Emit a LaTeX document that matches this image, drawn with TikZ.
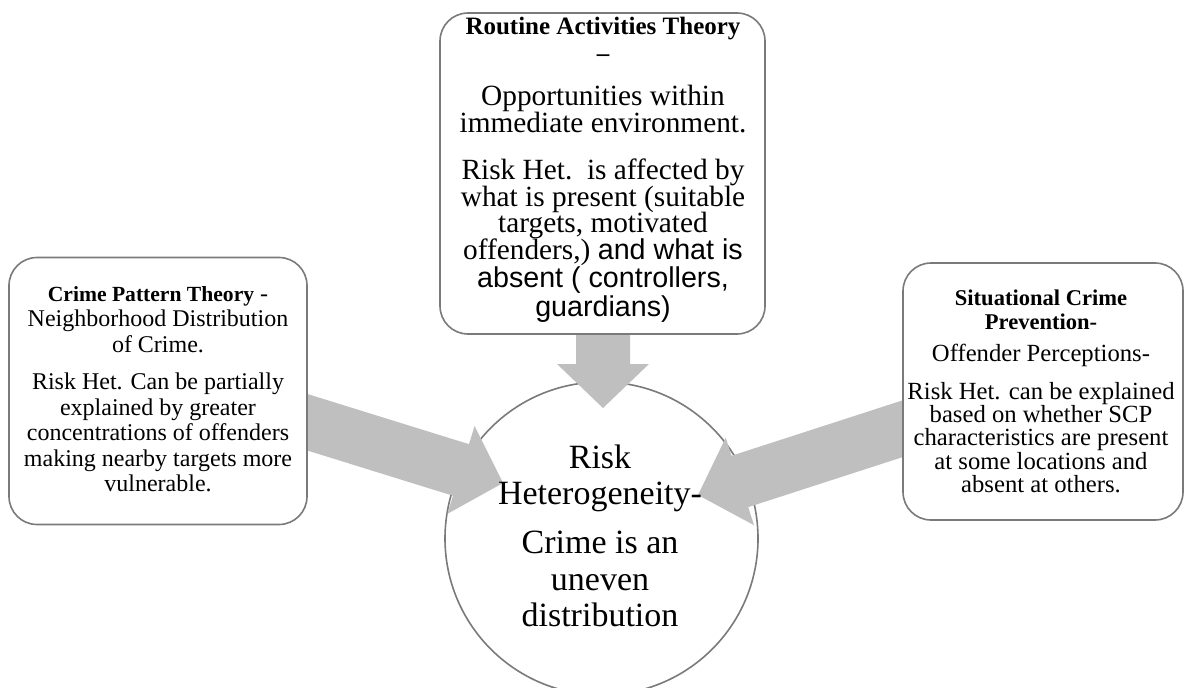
\documentclass[tikz,border=0pt]{standalone}
\usepackage{fontspec}
\setmainfont{Liberation Serif}
\newfontfamily\arialf{Liberation Sans}
\usetikzlibrary{calc}
\definecolor{boxline}{HTML}{7A7A7A}
\definecolor{arrowgray}{HTML}{BFBFBF}
\newcommand\txtblock[1]{\vtop{\hsize=300pt\lineskiplimit=-100pt\lineskip=0pt\parskip=0pt\parindent=0pt\centering #1\par}}
\newcommand\fatarrow[3]{%
  \path ($(#2)!33pt!(#1)$) coordinate (#3);
  \fill[arrowgray] ($(#1)!20.25pt!90:(#2)$) -- ($(#3)!20.25pt!90:(#2)$) -- ($(#3)!34.5pt!90:(#2)$) -- (#2)
    -- ($(#3)!34.5pt!-90:(#2)$) -- ($(#3)!20.25pt!-90:(#2)$) -- ($(#1)!20.25pt!-90:(#2)$) -- cycle;}
\tikzset{
  rbox/.style={draw=boxline, line width=1.2pt, fill=white, rounded corners=21pt, inner sep=0pt},
  cbox/.style={circle, draw=boxline, line width=1.2pt, fill=white, inner sep=0pt},
  txt/.style={anchor=base, inner sep=0pt},
}
\begin{document}
\begin{tikzpicture}[x=0.75pt,y=-0.75pt]
\fill[white] (0,0) rectangle (1185,688);
\useasboundingbox (0,0) rectangle (1185,688);

% central circle
\node[cbox, minimum size=234.75pt] (rh) at (601.5,538.5) {};

% arrows
\coordinate (ta) at (603,300);
\coordinate (tb) at (603,408);
\coordinate (la) at (255,406);
\coordinate (lb) at (503,483);
\coordinate (ra) at (945,415);
\coordinate (rb) at (698,495);
\fatarrow{ta}{tb}{th}
\fatarrow{la}{lb}{lh}
\fatarrow{ra}{rb}{rh2}

% boxes
\node[rbox, minimum width=243.75pt, minimum height=240.75pt] (rat) at (602.5,173.5) {};
\node[rbox, minimum width=223.5pt, minimum height=200.25pt] (cpt) at (158,391) {};
\node[rbox, minimum width=210pt, minimum height=192.75pt] (scp) at (1043,391.5) {};

% texts
\node[txt] (ratt) at (603,35) {\txtblock{%
  \fontsize{18.75}{20.25}\selectfont\bfseries Routine Activities Theory\\ –\par
  \vskip 13pt
  \fontsize{22}{20}\selectfont\mdseries Opportunities within\\ immediate environment.\par
  \vskip 15.25pt
  Risk Het.\ \ is affected by\\ what is present (suitable\\ targets, motivated\\
  offenders,) {\arialf\fontsize{21.5}{20}\selectfont and what is}\\[1.2pt]
  {\arialf\fontsize{21.5}{20}\selectfont absent ( controllers,}\\[1.2pt]
  {\arialf\fontsize{21.5}{20}\selectfont guardians)}}};

\node[txt] (cptt) at (158,301.5) {\txtblock{%
  \fontsize{18}{19.1}\selectfont {\fontsize{16.2}{19.1}\selectfont\bfseries Crime Pattern Theory} -\\
  Neighborhood Distribution\\ of Crime.\par
  \vskip 9pt
  Risk Het. Can be partially\\ explained by greater\\
  concentrations of offenders\\ making nearby targets more\\ vulnerable.}};

\node[txt] (scpt) at (1041,305) {\txtblock{%
  \fontsize{16.9}{18.4}\selectfont\bfseries Situational Crime\\ Prevention-\par
  \vskip 6.4pt
  \fontsize{18.5}{17.6}\selectfont\mdseries Offender Perceptions-\par
  \vskip 10.5pt
  Risk Het. can be explained\\ based on whether SCP\\ characteristics are present\\
  at some locations and\\ absent at others.}};

\node[txt] (rht) at (600,468) {\txtblock{%
  \fontsize{25.5}{27.4}\selectfont Risk\\ Heterogeneity-\par
  \vskip 9.4pt
  Crime is an\\ uneven\\ distribution}};
\end{tikzpicture}
\end{document}
